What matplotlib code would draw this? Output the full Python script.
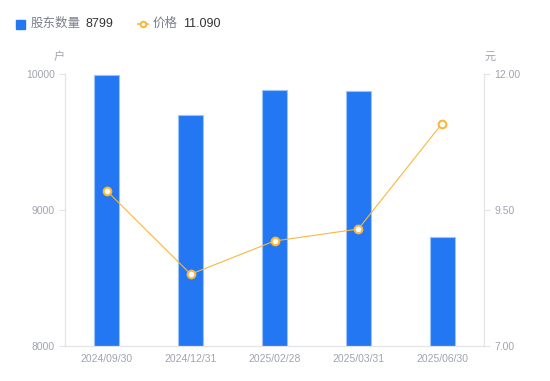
import matplotlib
matplotlib.use("Agg")
import matplotlib.pyplot as plt
from matplotlib.lines import Line2D
from matplotlib.patches import Rectangle

plt.rcParams['font.family'] = ['Liberation Sans', 'Noto Sans CJK SC', 'DejaVu Sans']

dates = ["2024/09/30", "2024/12/31", "2025/02/28", "2025/03/31", "2025/06/30"]
holders = [9990, 9700, 9880, 9875, 8799]
price = [9.85, 8.32, 8.93, 9.15, 11.09]

blue = "#2477F2"
orange = "#F9B740"
grey_txt = "#A0A3B1"
grey_line = "#E3E4E8"

W, H = 550, 381
fig = plt.figure(figsize=(W / 100, H / 100), dpi=100)
ax = fig.add_axes([65 / W, 35 / H, (484 - 65) / W, (346 - 74) / H])
ax2 = ax.twinx()

x = range(len(dates))
ax.bar(x, holders, width=0.3, color=blue, edgecolor="#9CC2F7", linewidth=0.8, zorder=2)
ax.set_ylim(8000, 10000)
ax.set_xlim(-0.5, 4.5)
ax.set_yticks([8000, 9000, 10000])
ax.set_xticks(list(x))
ax.set_xticklabels(dates)

ax2.plot(x, price, color=orange, linewidth=0.8, marker="o", markersize=5.5,
         markerfacecolor="white", markeredgecolor=orange, markeredgewidth=1.5, zorder=3)
ax2.set_ylim(7, 12)
ax2.set_yticks([7, 9.5, 12])
ax2.set_yticklabels(["7.00", "9.50", "12.00"])

for a in (ax, ax2):
    for s in a.spines.values():
        s.set_color(grey_line)
    a.spines['top'].set_visible(False)
    a.tick_params(colors=grey_line, labelcolor=grey_txt, labelsize=7.5, length=4, width=0.8)
ax.tick_params(axis='x', length=0, pad=6)
ax.set_zorder(ax2.get_zorder() - 1)
ax2.patch.set_visible(False)

fig.text(59 / W, 1 - 57 / H, "户", color=grey_txt, fontsize=8, ha="center", va="center")
fig.text(490 / W, 1 - 57 / H, "元", color=grey_txt, fontsize=8, ha="center", va="center")

# legend
fig.patches.append(Rectangle((16 / W, 1 - 29 / H), 9 / W, 9 / H, transform=fig.transFigure,
                             color=blue, figure=fig))
fig.text(31 / W, 1 - 24 / H, "股东数量", color="#7B7F8E", fontsize=9, va="center")
fig.text(85 / W, 1 - 24 / H, "8799", color="#333333", fontsize=9, va="center")
fig.lines.append(Line2D([138 / W, 148 / W], [1 - 24 / H, 1 - 24 / H], transform=fig.transFigure,
                        color=orange, linewidth=1.2))
fig.lines.append(Line2D([143 / W], [1 - 24 / H], transform=fig.transFigure, color=orange,
                        marker="o", markersize=4, markerfacecolor="white", markeredgewidth=1.5))
fig.text(153 / W, 1 - 24 / H, "价格", color="#7B7F8E", fontsize=9, va="center")
fig.text(183 / W, 1 - 24 / H, "11.090", color="#333333", fontsize=9, va="center")

fig.savefig("out.png", dpi=100)
